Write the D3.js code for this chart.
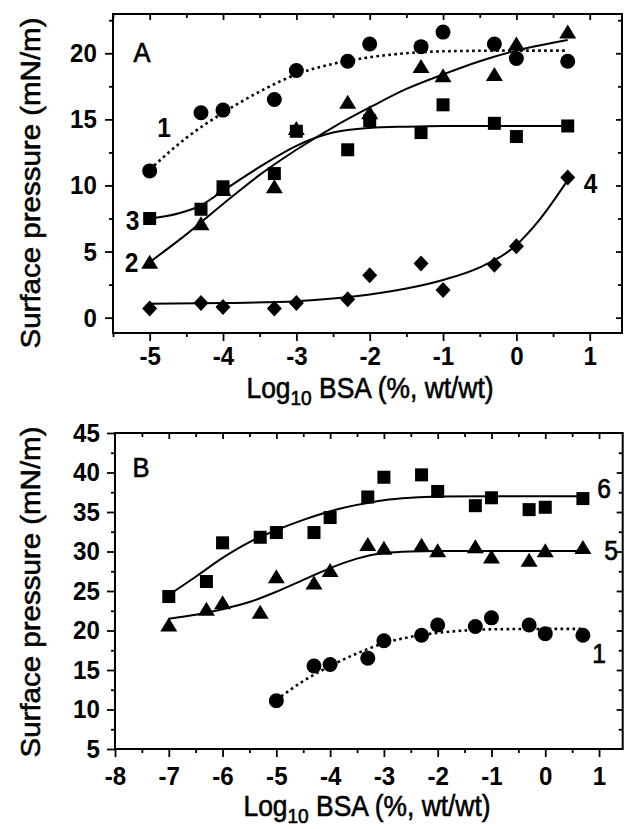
<!DOCTYPE html>
<html><head><meta charset="utf-8">
<script src="https://cdn.jsdelivr.net/npm/d3@7"></script>
<style>
html,body{margin:0;padding:0;background:#fff;}
svg{display:block;}
text{font-family:"Liberation Sans",Arial,Helvetica,sans-serif;fill:#000;}
</style></head>
<body>
<svg id="chart" width="626" height="829"></svg>
<script>
// ---------- data ----------
const xA = [-5, -4.3, -4, -3.3, -3, -2.3, -2, -1.3, -1, -0.3, 0, 0.7];
const series1 = [11.1, 15.5, 15.7, 16.5, 18.7, 19.4, 20.7, 20.5, 21.6, 20.7, 19.6, 19.4];
const series2 = [4.2, 7.1, 9.7, 9.9, 14.3, 16.3, 15.5, 19.0, 18.3, 18.4, 20.7, 21.6];
const series3 = [7.5, 8.2, 9.9, 10.9, 14.1, 12.7, 14.9, 14.0, 16.1, 14.7, 13.7, 14.5];
const series4 = [0.7, 1.1, 0.8, 0.7, 1.1, 1.4, 3.2, 4.1, 2.1, 4.0, 5.4, 10.6];

const xB = [-7, -6.3, -6, -5.3, -5, -4.3, -4, -3.3, -3, -2.3, -2, -1.3, -1, -0.3, 0, 0.7];
const series6 = [24.3, 26.2, 31.1, 31.8, 32.4, 32.4, 34.3, 36.9, 39.4, 39.7, 37.6, 35.8, 36.8, 35.3, 35.6, 36.7];
const series5 = [20.7, 22.7, 23.5, 22.3, 26.8, 26.0, 27.6, 30.9, 30.4, 30.8, 30.1, 30.6, 29.3, 28.9, 30.1, 30.5];

// fitted curves, points
const fit1X = [-5, -4.5, -4, -3.5, -3, -2.5, -2, -1.5, -1, 0, 0.7];
const fit1Y = [11.2, 13.6, 15.5, 17.1, 18.4, 19.2, 19.7, 20.0, 20.15, 20.2, 20.2];
const fit2X = [-5, -4.5, -4, -3.5, -3, -2.5, -2, -1.5, -1, -0.5, 0, 0.7];
const fit2Y = [4.2, 6.3, 8.6, 10.8, 12.7, 14.4, 15.9, 17.3, 18.4, 19.4, 20.2, 21.0];
const fit3X = [-5, -4.6, -4.3, -4, -3.5, -3, -2.5, -2, -1.5, -1, 0, 0.7];
const fit3Y = [7.5, 7.9, 8.5, 9.6, 11.4, 13.0, 14.0, 14.35, 14.45, 14.5, 14.5, 14.5];
const fit4X = [-5, -4, -3, -2.5, -2, -1.5, -1, -0.5, 0, 0.3, 0.7];
const fit4Y = [1.05, 1.1, 1.25, 1.45, 1.75, 2.2, 2.85, 3.8, 5.5, 7.3, 10.4];
const fit5X = [-7, -6.5, -6, -5.5, -5, -4.5, -4, -3.5, -3, -2.5, -2, 0.7];
const fit5Y = [21.5, 22.0, 22.7, 23.6, 24.9, 26.4, 27.9, 29.1, 29.8, 30.0, 30.05, 30.05];
const fit6X = [-7, -6.5, -6, -5.5, -5, -4.5, -4, -3.5, -3, -2.5, -2, -1, 0.7];
const fit6Y = [24.5, 26.8, 29.2, 31.2, 32.7, 34.0, 35.1, 35.9, 36.5, 36.8, 36.95, 37.0, 37.0];

// tick values
const xTicksA = [-5, -4, -3, -2, -1, 0, 1];
const xMinorA = [-5.5, -4.5, -3.5, -2.5, -1.5, -0.5, 0.5];
const yTicksA = [0, 5, 10, 15, 20];
const yMinorA = [2.5, 7.5, 12.5, 17.5, 22.5];
const xTicksB = [-8, -7, -6, -5, -4, -3, -2, -1, 0, 1];
const xMinorB = [-7.5, -6.5, -5.5, -4.5, -3.5, -2.5, -1.5, -0.5, 0.5];
const yTicksB = [5, 10, 15, 20, 25, 30, 35, 40, 45];
const yMinorB = [7.5, 12.5, 17.5, 22.5, 27.5, 32.5, 37.5, 42.5];

const svg = d3.select("#chart");
const SX = 0.91; // horizontal text compression seen in the scan

function shape(g, type, pts) {
  const sel = g.selectAll(null).data(pts).enter();
  if (type === "circle") {
    sel.append("circle").attr("cx", d => d[0]).attr("cy", d => d[1]).attr("r", 7.5).attr("fill", "#000");
  } else if (type === "square") {
    sel.append("rect").attr("x", d => d[0] - 6.5).attr("y", d => d[1] - 6.5)
      .attr("width", 13).attr("height", 13).attr("fill", "#000");
  } else if (type === "triangle") {
    sel.append("path").attr("d", d => `M${d[0]},${d[1] - 7.5}L${d[0] + 8.5},${d[1] + 6.5}L${d[0] - 8.5},${d[1] + 6.5}Z`).attr("fill", "#000");
  } else if (type === "diamond") {
    sel.append("path").attr("d", d => `M${d[0]},${d[1] - 8}L${d[0] + 7.5},${d[1]}L${d[0]},${d[1] + 8}L${d[0] - 7.5},${d[1]}Z`).attr("fill", "#000");
  }
}

function panel(cfg) {
  const g = svg.append("g");
  const x = d3.scaleLinear().domain(cfg.xDom).range([cfg.left, cfg.right]);
  const y = d3.scaleLinear().domain(cfg.yDom).range([cfg.bottom, cfg.top]);
  const fmt = d => String(d);

  g.append("g").attr("transform", `translate(0,${cfg.bottom})`)
    .call(d3.axisBottom(x).tickValues(cfg.xTicks).tickSize(8).tickPadding(cfg.xPad).tickFormat(fmt));
  g.append("g").attr("transform", `translate(0,${cfg.bottom})`)
    .call(d3.axisBottom(x).tickValues(cfg.xMinor).tickSize(4).tickFormat(""));
  g.append("g").attr("transform", `translate(${cfg.left},0)`)
    .call(d3.axisLeft(y).tickValues(cfg.yTicks).tickSize(8).tickPadding(cfg.yPad).tickFormat(fmt));
  g.append("g").attr("transform", `translate(${cfg.left},0)`)
    .call(d3.axisLeft(y).tickValues(cfg.yMinor).tickSize(4).tickFormat(""));
  g.append("g").attr("transform", `translate(0,${cfg.top})`)
    .call(d3.axisTop(x).tickValues(cfg.xTicks.filter(v => v > cfg.xDom[0] && v < cfg.xDom[1])).tickSize(-6).tickFormat(""));
  g.append("g").attr("transform", `translate(0,${cfg.top})`)
    .call(d3.axisTop(x).tickValues(cfg.xMinor).tickSize(-4).tickFormat(""));
  g.append("g").attr("transform", `translate(${cfg.right},0)`)
    .call(d3.axisRight(y).tickValues(cfg.yTicks.filter(v => v > cfg.yDom[0] && v < cfg.yDom[1])).tickSize(-6).tickFormat(""));
  g.append("g").attr("transform", `translate(${cfg.right},0)`)
    .call(d3.axisRight(y).tickValues(cfg.yMinor).tickSize(-4).tickFormat(""));

  g.selectAll(".domain").remove();
  g.selectAll(".tick line").attr("stroke", "#000").attr("stroke-width", 1.8);
  g.selectAll(".tick text").attr("font-size", 26.5).attr("font-weight", "bold")
    .attr("font-family", '"Liberation Sans",Arial,Helvetica,sans-serif')
    .attr("transform", `scale(${SX},1)`);

  g.append("rect").attr("x", cfg.left).attr("y", cfg.top)
    .attr("width", cfg.right - cfg.left).attr("height", cfg.bottom - cfg.top)
    .attr("fill", "none").attr("stroke", "#000").attr("stroke-width", 2);

  const line = d3.line().x(d => x(d[0])).y(d => y(d[1])).curve(d3.curveMonotoneX);
  cfg.fits.forEach(f => {
    g.append("path").datum(f.xs.map((v, i) => [v, f.ys[i]]))
      .attr("d", line).attr("fill", "none").attr("stroke", "#000")
      .attr("stroke-width", f.dotted ? 2.6 : 2)
      .attr("stroke-dasharray", f.dotted ? "2.6,3.4" : null);
  });
  cfg.series.forEach(s => {
    shape(g, s.type, s.xs.map((v, i) => [x(v), y(s.ys[i])]));
  });

  cfg.labels.forEach(l => {
    g.append("text").attr("transform", `translate(${l.x},${l.y}) scale(${SX},1)`)
      .attr("text-anchor", "middle").attr("font-size", l.size || 27)
      .attr("font-weight", l.bold ? "bold" : "normal")
      .attr("stroke", l.bold ? null : "#000").attr("stroke-width", l.bold ? null : 0.7)
      .text(l.t);
  });

  const xt = g.append("text").attr("transform", `translate(${cfg.xtX},${cfg.xtY}) scale(${SX},1)`)
    .attr("text-anchor", "middle").attr("font-size", 29)
    .attr("stroke", "#000").attr("stroke-width", 0.6);
  xt.append("tspan").text("Log");
  xt.append("tspan").attr("font-size", 21).attr("dy", 7).text("10");
  xt.append("tspan").attr("dy", -7).text(" BSA (%, wt/wt)");
  g.append("text").attr("transform", `translate(40,${cfg.ytY}) scale(${SX},1) rotate(-90)`)
    .attr("text-anchor", "middle").attr("font-size", 29.5)
    .attr("stroke", "#000").attr("stroke-width", 0.6)
    .text("Surface pressure (mN/m)");
}

panel({
  left: 113, right: 622, top: 14, bottom: 333,
  xDom: [-5.5, 1.44], yDom: [-1.16, 22.97],
  xTicks: xTicksA, xMinor: xMinorA, yTicks: yTicksA, yMinor: yMinorA,
  xPad: 5, yPad: 9.8,
  fits: [
    {xs: fit1X, ys: fit1Y, dotted: true},
    {xs: fit2X, ys: fit2Y},
    {xs: fit3X, ys: fit3Y},
    {xs: fit4X, ys: fit4Y}
  ],
  series: [
    {type: "diamond", xs: xA, ys: series4},
    {type: "square", xs: xA, ys: series3},
    {type: "triangle", xs: xA, ys: series2},
    {type: "circle", xs: xA, ys: series1}
  ],
  labels: [
    {t: "A", x: 142, y: 62, size: 28},
    {t: "1", x: 164, y: 137, bold: true},
    {t: "3", x: 132.5, y: 230, bold: true},
    {t: "2", x: 131.5, y: 271.5, bold: true},
    {t: "4", x: 590.5, y: 193, bold: true}
  ],
  xtX: 370, xtY: 397.5, ytY: 183
});

panel({
  left: 115, right: 622.7, top: 433, bottom: 749,
  xDom: [-8, 1.44], yDom: [5, 45],
  xTicks: xTicksB, xMinor: xMinorB, yTicks: yTicksB, yMinor: yMinorB,
  xPad: 9, yPad: 8.7,
  fits: [
    {xs: fit1X, ys: fit1Y, dotted: true},
    {xs: fit5X, ys: fit5Y},
    {xs: fit6X, ys: fit6Y}
  ],
  series: [
    {type: "circle", xs: xA, ys: series1},
    {type: "triangle", xs: xB, ys: series5},
    {type: "square", xs: xB, ys: series6}
  ],
  labels: [
    {t: "B", x: 141, y: 477, size: 28},
    {t: "6", x: 604, y: 498},
    {t: "5", x: 611, y: 560},
    {t: "1", x: 599, y: 663}
  ],
  xtX: 367, xtY: 816, ytY: 592
});
</script>
</body></html>
